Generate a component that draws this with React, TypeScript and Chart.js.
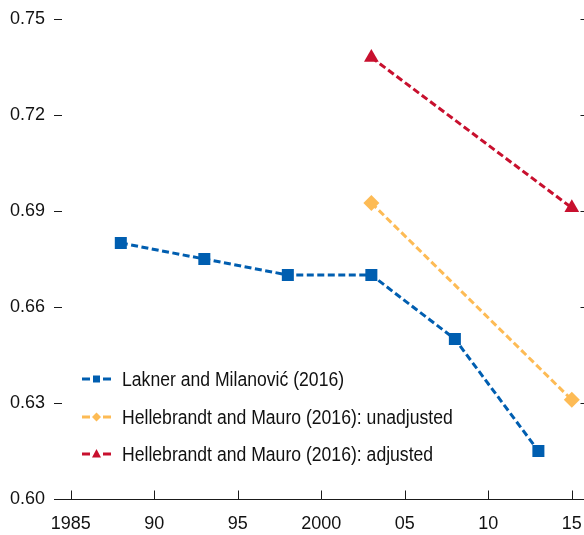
import React, { useEffect, useRef } from "react";
import { Chart, registerables } from "chart.js";

Chart.register(...registerables);

const laknerYears = [1988, 1993, 1998, 2003, 2008, 2013];
const laknerValues = [0.68, 0.675, 0.67, 0.67, 0.65, 0.615];
const hmYears = [2003, 2015];
const hmUnadjusted = [0.6925, 0.631];
const hmAdjusted = [0.738, 0.691];

const seriesLabels = [
  "Lakner and Milanović (2016)",
  "Hellebrandt and Mauro (2016): unadjusted",
  "Hellebrandt and Mauro (2016): adjusted",
];
const seriesColors = ["#005eb0", "#fdbb55", "#c8102e"];
const seriesMarkers = ["rect", "rectRot", "triangle"];

const xTickValues = [1985, 1990, 1995, 2000, 2005, 2010, 2015];
const xTickLabels = ["1985", "90", "95", "2000", "05", "10", "15"];
const yTickValues = [0.6, 0.63, 0.66, 0.69, 0.72, 0.75];

const FONT = "'Liberation Sans', Arial, sans-serif";

const axisPlugin = {
  id: "customAxes",
  afterDraw(chart: any) {
    const { ctx, chartArea } = chart;
    const x = chart.scales.x;
    const y = chart.scales.y;
    ctx.save();
    ctx.strokeStyle = "#1a1a1a";
    ctx.lineWidth = 1;
    ctx.beginPath();
    const by = Math.round(chartArea.bottom) + 0.5;
    ctx.moveTo(chartArea.left, by);
    ctx.lineTo(chartArea.right, by);
    xTickValues.forEach((v) => {
      const px = Math.round(x.getPixelForValue(v)) + 0.5;
      ctx.moveTo(px, by);
      ctx.lineTo(px, by - 9);
    });
    yTickValues.forEach((v) => {
      if (v === 0.6) return;
      const py = Math.round(y.getPixelForValue(v)) + 0.5;
      ctx.moveTo(chartArea.left, py);
      ctx.lineTo(chartArea.left + 8, py);
      ctx.moveTo(chartArea.right - 8, py);
      ctx.lineTo(chartArea.right, py);
    });
    ctx.stroke();

    // legend
    const rowsY = [379, 417, 454];
    chart.data.datasets.forEach((ds: any, i: number) => {
      const cy = rowsY[i];
      ctx.strokeStyle = ds.borderColor;
      ctx.lineWidth = 3;
      ctx.beginPath();
      ctx.moveTo(82, cy);
      ctx.lineTo(90, cy);
      ctx.moveTo(103, cy);
      ctx.lineTo(111, cy);
      ctx.stroke();
      ctx.fillStyle = ds.borderColor;
      ctx.beginPath();
      const m = seriesMarkers[i];
      if (m === "rect") {
        ctx.rect(93, cy - 3.5, 7, 7);
      } else if (m === "rectRot") {
        ctx.moveTo(96.5, cy - 4.5);
        ctx.lineTo(101, cy);
        ctx.lineTo(96.5, cy + 4.5);
        ctx.lineTo(92, cy);
        ctx.closePath();
      } else {
        ctx.moveTo(96.5, cy - 5);
        ctx.lineTo(101, cy + 3.5);
        ctx.lineTo(92, cy + 3.5);
        ctx.closePath();
      }
      ctx.fill();
      ctx.save();
      ctx.translate(122, cy + 1);
      ctx.scale(0.88, 1);
      ctx.fillStyle = "#111";
      ctx.font = `20px ${FONT}`;
      ctx.textBaseline = "middle";
      ctx.textAlign = "left";
      ctx.fillText(ds.label, 0, 0);
      ctx.restore();
    });
    ctx.restore();
  },
};

export default function App() {
  const ref = useRef<HTMLCanvasElement | null>(null);
  useEffect(() => {
    if (!ref.current) return;
    const mk = (xs: number[], ys: number[]) => xs.map((x, i) => ({ x, y: ys[i] }));
    const data = [mk(laknerYears, laknerValues), mk(hmYears, hmUnadjusted), mk(hmYears, hmAdjusted)];
    const radii = [8.5, 8, 8.5];
    const chart = new Chart(ref.current, {
      type: "line",
      data: {
        datasets: data.map((d, i) => ({
          label: seriesLabels[i],
          data: d,
          borderColor: seriesColors[i],
          backgroundColor: seriesColors[i],
          borderWidth: 3,
          borderDash: [7, 3.5],
          pointStyle: seriesMarkers[i] as any,
          pointRadius: radii[i],
          pointBorderWidth: 0,
          pointBackgroundColor: seriesColors[i],
          tension: 0,
          fill: false,
        })),
      },
      options: {
        responsive: false,
        animation: false,
        devicePixelRatio: 1,
        layout: { padding: { top: 19, right: 0, left: 0, bottom: 0 } },
        plugins: { legend: { display: false }, tooltip: { enabled: false } },
        scales: {
          x: {
            type: "linear",
            min: 1984,
            max: 2016,
            grid: { display: false, drawTicks: false },
            border: { display: false },
            afterBuildTicks: (s: any) => {
              s.ticks = xTickValues.map((v) => ({ value: v }));
            },
            afterFit: (s: any) => {
              s.height = 36;
              s.paddingLeft = 0;
              s.paddingRight = 0;
            },
            ticks: {
              color: "#111",
              font: { family: FONT, size: 18 },
              padding: 14,
              maxRotation: 0,
              autoSkip: false,
              callback: (v: any) => {
                const i = xTickValues.indexOf(Number(v));
                return i >= 0 ? xTickLabels[i] : "";
              },
            },
          },
          y: {
            min: 0.6,
            max: 0.75,
            grid: { display: false, drawTicks: false },
            border: { display: false },
            afterBuildTicks: (s: any) => {
              s.ticks = yTickValues.map((v) => ({ value: v }));
            },
            afterFit: (s: any) => {
              s.width = 54;
              s.paddingTop = 0;
              s.paddingBottom = 0;
            },
            ticks: {
              color: "#111",
              font: { family: FONT, size: 18 },
              padding: 9,
              callback: (v: any) => Number(v).toFixed(2),
            },
          },
        },
      },
      plugins: [axisPlugin],
    });
    return () => chart.destroy();
  }, []);
  return (
    <div style={{ position: "absolute", left: 0, top: 0, width: 584, height: 535, overflow: "hidden", background: "#fff" }}>
      <canvas ref={ref} width={597} height={535} style={{ width: 597, height: 535, display: "block" }} />
    </div>
  );
}
